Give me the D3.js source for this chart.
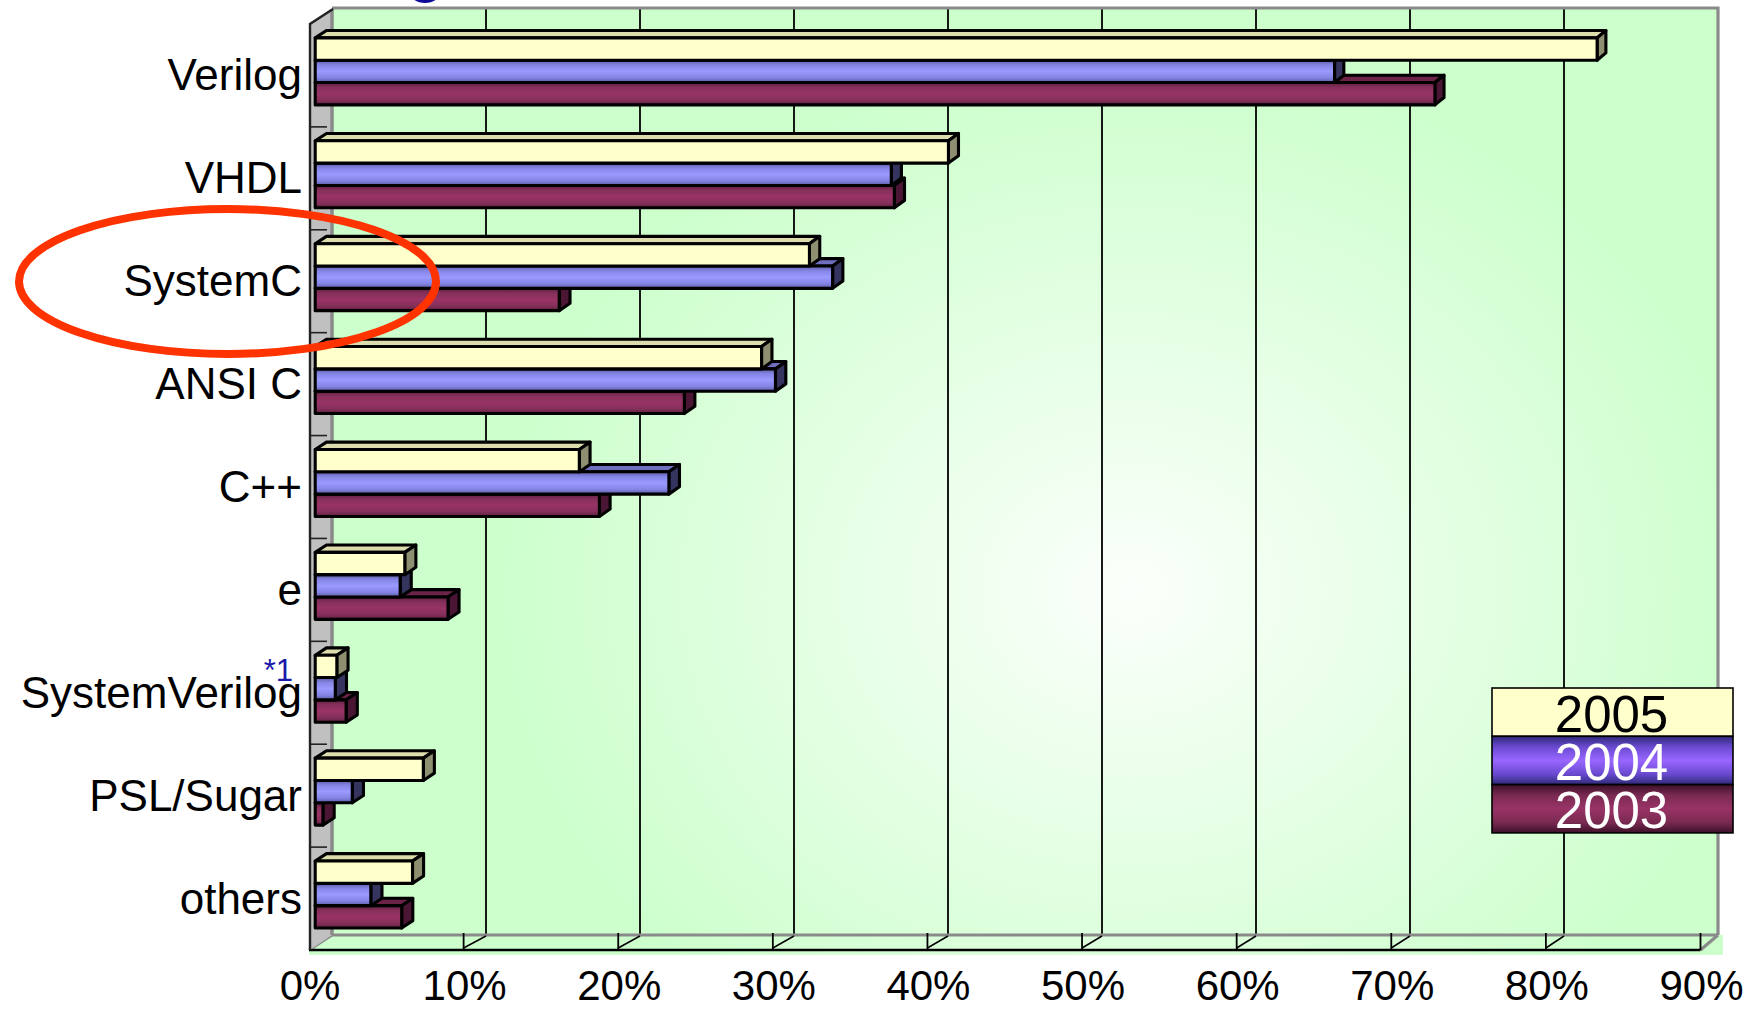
<!DOCTYPE html>
<html>
<head>
<meta charset="utf-8">
<script src="https://cdn.jsdelivr.net/npm/d3@7"></script>
<style>
  html, body { margin: 0; padding: 0; background: #ffffff; }
  svg { display: block; }
  text { font-family: "Liberation Sans", Arial, Helvetica, sans-serif; }
</style>
</head>
<body>
<svg id="chart" width="1756" height="1010"></svg>
<script>
// Survey of verification / design languages in use, by year
const categories = ["Verilog", "VHDL", "SystemC", "ANSI C", "C++", "e", "SystemVerilog", "PSL/Sugar", "others"];
const years = ["2005", "2004", "2003"];
const values2005 = [83, 41, 32, 28.9, 17.1, 5.8, 1.4, 7.0, 6.3];
const values2004 = [66, 37.3, 33.5, 29.8, 22.9, 5.5, 1.3, 2.4, 3.6];
const values2003 = [72.5, 37.5, 15.8, 23.9, 18.4, 8.6, 2.0, 0.5, 5.6];
const tickValues = [0, 10, 20, 30, 40, 50, 60, 70, 80, 90];
const tickLabels = ["0%", "10%", "20%", "30%", "40%", "50%", "60%", "70%", "80%", "90%"];
const footnoteMark = "*1";

const seriesValues = { "2005": values2005, "2004": values2004, "2003": values2003 };

const svg = d3.select("#chart");
const defs = svg.append("defs");

// ---- scales: front edge of the floor and back wall of the 3-D box ----
const xFront = d3.scaleLinear().domain([0, 90]).range([309, 1700.5]);
const xBack = d3.scaleLinear().domain([0, 90]).range([332, 1718]);
const depthRise = 15;                       // vertical shift from front to back
const yBand = d3.scaleBand().domain(categories).range([24, 950]).paddingInner(0).paddingOuter(0);
const ySeries = d3.scaleBand().domain(years).range([0, yBand.bandwidth()]).paddingInner(0).paddingOuter(0.804);

// project a (value, y, depth) point onto the screen
function proj(v, y, z) {
  const xf = xFront(v), xb = xBack(v);
  return [xf + (xb - xf) * z, y - depthRise * z];
}
const pts = arr => arr.map(p => p.join(",")).join(" ");

// ---- gradients ----
const wallGrad = defs.append("radialGradient")
  .attr("id", "wallGrad").attr("gradientUnits", "userSpaceOnUse")
  .attr("cx", 1130).attr("cy", 590).attr("r", 640)
  .attr("gradientTransform", "translate(1130,590) scale(1,0.85) translate(-1130,-590)");
wallGrad.append("stop").attr("offset", 0).attr("stop-color", "#fbfffb");
wallGrad.append("stop").attr("offset", 0.45).attr("stop-color", "#e6ffe6");
wallGrad.append("stop").attr("offset", 1).attr("stop-color", "#ccffcc");

function bandGradient(id, edge, mid, centre) {
  const g = defs.append("linearGradient").attr("id", id)
    .attr("x1", 0).attr("y1", 0).attr("x2", 0).attr("y2", 1);
  g.append("stop").attr("offset", 0).attr("stop-color", edge);
  g.append("stop").attr("offset", 0.22).attr("stop-color", mid);
  g.append("stop").attr("offset", 0.5).attr("stop-color", centre);
  g.append("stop").attr("offset", 0.78).attr("stop-color", mid);
  g.append("stop").attr("offset", 1).attr("stop-color", edge);
}
bandGradient("bar2004", "#5c5ca3", "#8585e6", "#9a9aff");
bandGradient("bar2003", "#5e1f40", "#86305b", "#993366");
bandGradient("leg2004", "#2e2a78", "#6a4ad0", "#9966ff");
bandGradient("leg2003", "#3c1028", "#7a2a52", "#993366");

const style = {
  "2005": { front: "#ffffcc", top: "#dcdcac", side: "#8e8e70" },
  "2004": { front: "url(#bar2004)", top: "#6f6fc0", side: "#34345e" },
  "2003": { front: "url(#bar2003)", top: "#6b2448", side: "#4a1633" }
};

// ---- back wall ----
const backTop = 9, backBottom = 935;
svg.append("rect")
  .attr("x", xBack(0)).attr("y", backTop)
  .attr("width", xBack(90) - xBack(0)).attr("height", backBottom - backTop)
  .attr("fill", "url(#wallGrad)");

// floor
svg.append("rect")
  .attr("x", xFront(0)).attr("y", backBottom)
  .attr("width", xBack(90) + 5 - xFront(0)).attr("height", 955 - backBottom)
  .attr("fill", "url(#wallGrad)");

// gridlines on the back wall
svg.append("g").selectAll("line")
  .data(tickValues.filter(t => t > 0 && t < 90))
  .join("line")
  .attr("x1", d => xBack(d)).attr("x2", d => xBack(d))
  .attr("y1", backTop).attr("y2", backBottom)
  .attr("stroke", "#000").attr("stroke-width", 1.8);

// back wall border (top and right)
svg.append("polyline")
  .attr("points", pts([[xBack(0), backTop - 1], [xBack(90), backTop - 1], [xBack(90), backBottom]]))
  .attr("fill", "none").attr("stroke", "#8a8a8a").attr("stroke-width", 3.2);

// floor edges and ticks
const floorFrontY = 950;
svg.append("line")
  .attr("x1", xBack(0)).attr("x2", xBack(90))
  .attr("y1", backBottom).attr("y2", backBottom)
  .attr("stroke", "#8a8a8a").attr("stroke-width", 3.2);
svg.append("polyline")
  .attr("points", pts([[xFront(90), floorFrontY], [xBack(90), backBottom]]))
  .attr("fill", "none").attr("stroke", "#8a8a8a").attr("stroke-width", 3.2);
svg.append("polyline")
  .attr("points", pts([[xFront(0), floorFrontY], [xBack(0), backBottom]]))
  .attr("fill", "none").attr("stroke", "#8a8a8a").attr("stroke-width", 3.2);
const floorTicks = svg.append("g");
floorTicks.selectAll("line.diag")
  .data(tickValues.filter(t => t > 0 && t < 90))
  .join("line").attr("class", "diag")
  .attr("x1", d => xFront(d)).attr("y1", floorFrontY - 2)
  .attr("x2", d => xBack(d)).attr("y2", backBottom + 1)
  .attr("stroke", "#000").attr("stroke-width", 1.5);
floorTicks.selectAll("line.tick")
  .data(tickValues.filter(t => t > 0))
  .join("line").attr("class", "tick")
  .attr("x1", d => xFront(d)).attr("x2", d => xFront(d))
  .attr("y1", backBottom - 2).attr("y2", floorFrontY)
  .attr("stroke", "#000").attr("stroke-width", 1.8);
svg.append("line")
  .attr("x1", xFront(0)).attr("x2", xFront(90))
  .attr("y1", floorFrontY).attr("y2", floorFrontY)
  .attr("stroke", "#000").attr("stroke-width", 2.4);

// ---- left side wall ----
const wallX = xFront(0) + 1;
svg.append("polygon")
  .attr("points", pts([[wallX, 24], [xBack(0), backTop], [xBack(0), backBottom], [wallX, floorFrontY]]))
  .attr("fill", "#c0c0c0");
svg.append("line")
  .attr("x1", xBack(0)).attr("x2", xBack(0)).attr("y1", backTop).attr("y2", backBottom)
  .attr("stroke", "#8a8a8a").attr("stroke-width", 3.5);
svg.append("polyline")
  .attr("points", pts([[wallX, floorFrontY], [wallX, 24], [xBack(0) + 1, backTop]]))
  .attr("fill", "none").attr("stroke", "#222").attr("stroke-width", 2.4);
svg.append("g").selectAll("line")
  .data(categories.slice(1))
  .join("line")
  .attr("x1", wallX).attr("x2", wallX + 17)
  .attr("y1", d => yBand(d)).attr("y2", d => yBand(d))
  .attr("stroke", "#222").attr("stroke-width", 1.6);

// ---- 3-D bars ----
const z0 = 0.27, z1 = 0.76;
const barsG = svg.append("g");
const drawOrder = ["2003", "2004", "2005"];
categories.forEach((cat, i) => {
  drawOrder.forEach(yr => {
    const v = seriesValues[yr][i];
    const yt = yBand(cat) + ySeries(yr);
    const yb = yt + ySeries.bandwidth();
    const A = proj(0, yt, z0), B = proj(v, yt, z0), C = proj(v, yb, z0), D = proj(0, yb, z0);
    const A2 = proj(0, yt, z1), B2 = proj(v, yt, z1), C2 = proj(v, yb, z1);
    const g = barsG.append("g")
      .attr("stroke", "#000").attr("stroke-width", 3.1).attr("stroke-linejoin", "round");
    g.append("polygon").attr("points", pts([A, A2, B2, B])).attr("fill", style[yr].top);
    g.append("polygon").attr("points", pts([B, B2, C2, C])).attr("fill", style[yr].side);
    g.append("polygon").attr("points", pts([A, B, C, D])).attr("fill", style[yr].front);
  });
});

// ---- category labels ----
svg.append("g").selectAll("text")
  .data(categories)
  .join("text")
  .attr("x", 302)
  .attr("y", d => yBand(d) + yBand.bandwidth() / 2 + 15)
  .attr("text-anchor", "end")
  .attr("font-size", 44)
  .attr("fill", "#000")
  .text(d => d);

svg.append("text")
  .attr("x", 293).attr("y", 681)
  .attr("text-anchor", "end")
  .attr("font-size", 31)
  .attr("fill", "#1a1aa6")
  .text(footnoteMark);

// ---- value axis labels ----
svg.append("g").selectAll("text")
  .data(tickValues)
  .join("text")
  .attr("x", d => xFront(d) + 1)
  .attr("y", 1000)
  .attr("text-anchor", "middle")
  .attr("font-size", 42)
  .attr("fill", "#000")
  .text((d, i) => tickLabels[i]);

// ---- legend ----
const legX = 1492, legW = 241, legTop = 688, rowH = 48.3;
const legend = svg.append("g");
const legFill = { "2005": "#ffffcc", "2004": "url(#leg2004)", "2003": "url(#leg2003)" };
const legText = { "2005": "#000", "2004": "#fff", "2003": "#fff" };
years.forEach((yr, k) => {
  legend.append("rect")
    .attr("x", legX).attr("y", legTop + k * rowH)
    .attr("width", legW).attr("height", rowH)
    .attr("fill", legFill[yr]).attr("stroke", "#000").attr("stroke-width", 1.6);
  legend.append("text")
    .attr("x", legX + legW / 2 - 1)
    .attr("y", legTop + (k + 1) * rowH - 4.5)
    .attr("text-anchor", "middle")
    .attr("font-size", 51)
    .attr("fill", legText[yr])
    .text(yr);
});

// ---- heading glyph cut by the top edge ----
svg.append("ellipse")
  .attr("cx", 425).attr("cy", -9).attr("rx", 16).attr("ry", 12)
  .attr("fill", "#0c0c99");

// ---- highlight ring around SystemC ----
svg.append("ellipse")
  .attr("cx", 227.5).attr("cy", 281.5).attr("rx", 208.5).attr("ry", 72.5)
  .attr("fill", "none").attr("stroke", "#ff3300").attr("stroke-width", 8);
</script>
</body>
</html>
